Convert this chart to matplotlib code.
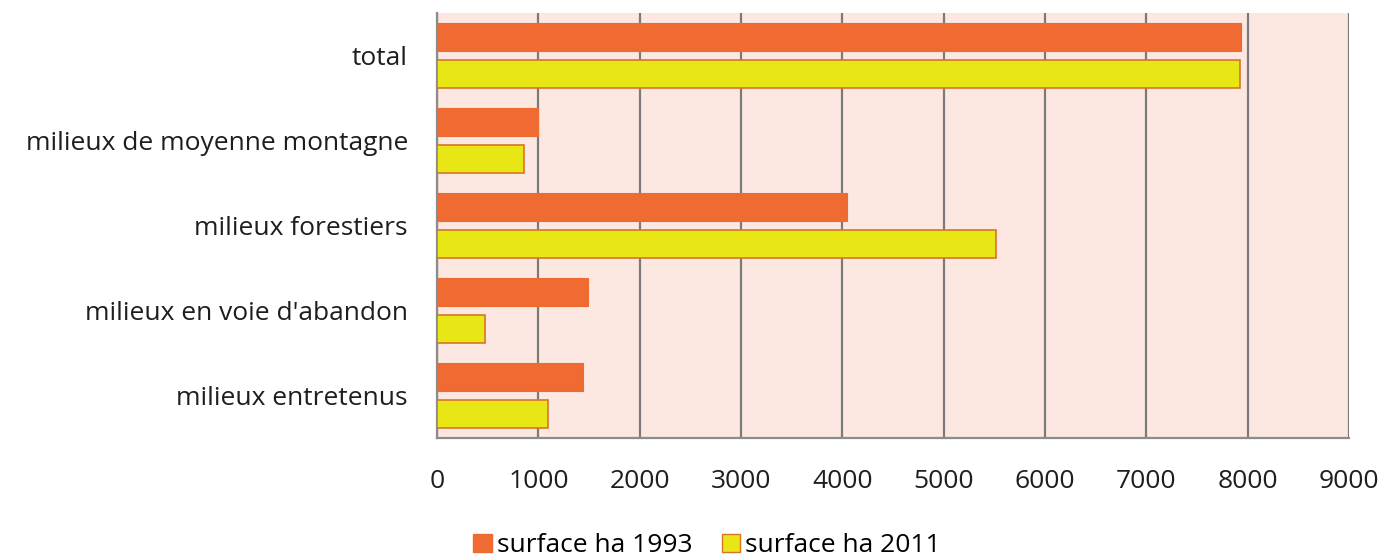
import matplotlib
matplotlib.use("Agg")
import matplotlib.pyplot as plt
import numpy as np
from matplotlib.patches import Patch

plt.rcParams['font.family'] = ['Open Sans', 'DejaVu Sans']

# data (hectares)
categories = ['total', 'milieux de moyenne montagne', 'milieux forestiers',
              "milieux en voie d'abandon", 'milieux entretenus']
surface_1993 = [7930, 1000, 4050, 1490, 1445]
surface_2011 = [7920, 860, 5520, 475, 1095]
xticks = [0, 1000, 2000, 3000, 4000, 5000, 6000, 7000, 8000, 9000]

orange = '#F06B31'
yellow = '#E9E615'

fig = plt.figure(figsize=(13.84, 5.56), dpi=100)
ax = fig.add_axes([0.3158, 0.2122, 0.6589, 0.7644])
ax.set_facecolor('#FCE7E1')

y = np.arange(len(categories))
h = 0.34
ax.barh(y - 0.218, surface_1993, height=h, color=orange, edgecolor='#EE6A2E', linewidth=0.8, zorder=3)
ax.barh(y + 0.218, surface_2011, height=h, color=yellow, edgecolor='#D8742A', linewidth=1.2, zorder=3)

ax.set_ylim(len(categories) - 0.5, -0.5)
ax.set_xlim(0, 9000)
ax.set_yticks(y)
ax.set_yticklabels(categories, fontsize=19, color='#1E1E1E')
ax.set_xticks(xticks)
ax.set_xticklabels([str(t) for t in xticks], fontsize=19, color='#1E1E1E')
ax.tick_params(axis='y', length=0, pad=21)
ax.tick_params(axis='x', length=0, pad=22)

ax.grid(axis='x', color='#7A7A7A', linewidth=1.6, zorder=1)
for side in ['top', 'right']:
    ax.spines[side].set_visible(False)
for side in ['left', 'bottom']:
    ax.spines[side].set_color('#8C8C8C')
    ax.spines[side].set_linewidth(1.6)

handles = [Patch(facecolor=orange, edgecolor='#EE6A2E', label='surface ha 1993'),
           Patch(facecolor=yellow, edgecolor='#D8742A', label='surface ha 2011')]
fig.legend(handles=handles, loc='center', bbox_to_anchor=(0.511, 0.018), ncol=2,
           frameon=False, fontsize=19, handlelength=0.7, handleheight=0.7,
           handletextpad=0.2, columnspacing=1.1, borderaxespad=0)

fig.savefig('out.png', dpi=100)
